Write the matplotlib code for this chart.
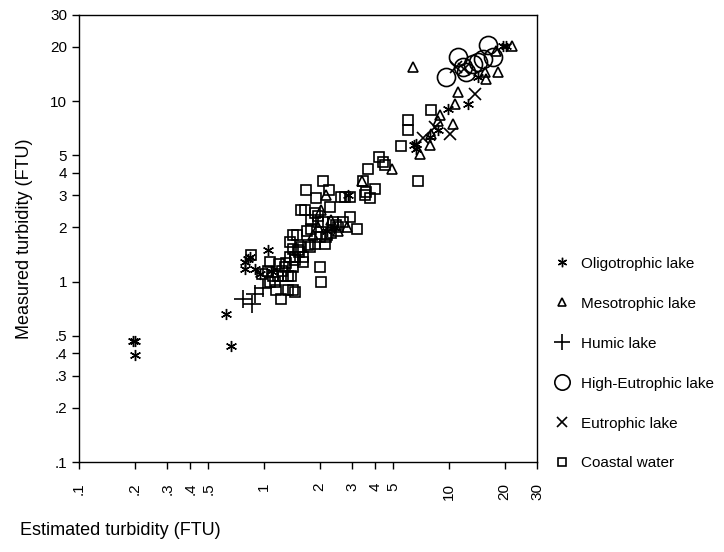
import matplotlib
matplotlib.use("Agg")
import matplotlib.pyplot as plt

plt.rcParams['font.family'] = ['Liberation Sans', 'DejaVu Sans']

# tick positions / labels (both axes use the same log scale)
ticks = [0.1, 0.2, 0.3, 0.4, 0.5, 1, 2, 3, 4, 5, 10, 20, 30]
tick_labels = ['.1', '.2', '.3', '.4', '.5', '1', '2', '3', '4', '5', '10', '20', '30']

# Oligotrophic lake (estimated, measured)
olig_x = [0.195, 0.2, 0.2, 0.62, 0.66, 0.79, 0.82, 0.79, 0.9, 0.95, 1.05, 1.09, 0.84,
          2.2, 2.4, 2.85, 6.5, 6.6, 6.6, 7.9, 8.7, 9.9, 12.7, 14.3, 19.6, 20.3]
olig_y = [0.47, 0.47, 0.39, 0.66, 0.44, 1.29, 1.34, 1.18, 1.18, 1.1, 1.5, 1.14, 1.36,
          1.9, 2.0, 3.0, 5.7, 5.4, 5.8, 6.3, 6.9, 9.0, 9.6, 13.5, 20.3, 20.3]

# Mesotrophic lake
meso_x = [1.84, 2.03, 2.16, 2.8, 3.4, 4.9, 7.0, 7.9, 8.0, 8.7, 9.0, 10.5, 10.8, 11.2,
          6.4, 15.6, 15.9, 17.9, 18.4, 22.0, 2.3, 2.5, 1.95]
meso_y = [1.8, 2.5, 3.0, 2.0, 3.6, 4.2, 5.1, 5.7, 6.6, 7.8, 8.4, 7.5, 9.6, 11.2,
          15.4, 14.5, 13.2, 19.0, 14.5, 20.3, 2.2, 1.9, 2.0]

# Humic lake
humic_x = [0.77, 0.86, 0.9, 0.99]
humic_y = [0.8, 0.75, 0.85, 0.92]

# High-Eutrophic lake
high_x = [9.6, 11.2, 11.9, 12.3, 13.5, 14.3, 15.2, 16.2, 17.3]
high_y = [13.6, 17.5, 15.4, 14.5, 16.0, 16.4, 17.0, 20.5, 17.5]

# Eutrophic lake
eut_x = [7.2, 8.4, 10.1, 10.9, 13.8, 12.0]
eut_y = [6.2, 7.2, 6.6, 15.4, 11.0, 15.0]

# Coastal water
coast_x = [0.85, 1.08, 1.12, 1.19, 1.27, 1.35, 1.08, 1.15, 1.24, 1.35, 1.43, 1.4, 1.47,
           1.43, 1.62, 1.53, 2.0, 2.03, 1.43, 1.58, 1.77, 1.16, 1.47, 1.32, 1.38, 1.47,
           1.62, 1.73, 1.38, 1.43, 1.89, 2.14, 2.0, 2.16, 1.79, 1.96, 2.08, 2.36, 2.51,
           2.67, 2.92, 3.2, 1.58, 1.66, 1.89, 2.27, 2.08, 1.69, 1.91, 2.25, 2.61, 2.74,
           2.92, 3.5, 3.98, 3.74, 3.65, 4.4, 4.2, 4.5, 3.43, 3.56, 5.5, 6.0, 6.0, 8.0,
           6.8, 1.25, 1.3, 1.55, 1.7, 2.3, 2.45, 1.95, 1.05, 0.98, 1.2, 1.5, 1.8, 2.2]
coast_y = [1.41, 1.29, 1.07, 1.07, 1.07, 1.07, 1.0, 1.0, 0.8, 0.9, 0.9, 1.07, 1.32,
           1.21, 1.29, 1.5, 1.21, 1.0, 1.52, 1.56, 1.56, 0.9, 0.88, 1.26, 1.37, 1.37,
           1.37, 1.6, 1.66, 1.82, 1.62, 1.62, 1.77, 1.77, 1.96, 2.14, 2.14, 2.14, 2.0,
           2.14, 2.29, 1.96, 2.5, 2.5, 2.4, 2.6, 3.6, 3.2, 2.9, 3.2, 2.95, 2.95,
           2.95, 3.0, 3.26, 2.9, 4.2, 4.6, 4.9, 4.4, 3.6, 3.14, 5.6, 7.9, 6.9, 8.9,
           3.6, 1.15, 1.2, 1.45, 1.9, 1.85, 2.05, 2.3, 1.15, 1.1, 1.25, 1.8, 2.2, 1.8]

fig = plt.figure(figsize=(7.24, 5.52), dpi=100)
ax = fig.add_axes([0.109, 0.163, 0.633, 0.810])

ax.plot(coast_x, coast_y, 's', mfc='none', mec='black', ms=7.5, mew=1.2,
        linestyle='none', label='Coastal water')
ax.plot(olig_x, olig_y, marker=(6, 2, 0), color='black', ms=8, mew=1.0,
        linestyle='none', label='Oligotrophic lake')
ax.plot(meso_x, meso_y, '^', mfc='none', mec='black', ms=7, mew=1.2,
        linestyle='none', label='Mesotrophic lake')
ax.plot(humic_x, humic_y, '+', color='black', ms=13, mew=1.2,
        linestyle='none', label='Humic lake')
ax.plot(high_x, high_y, 'o', mfc='none', mec='black', ms=13, mew=1.2,
        linestyle='none', label='High-Eutrophic lake')
ax.plot(eut_x, eut_y, 'x', color='black', ms=8, mew=1.2,
        linestyle='none', label='Eutrophic lake')

ax.set_xscale('log')
ax.set_yscale('log')
ax.set_xlim(0.1, 30)
ax.set_ylim(0.1, 30)
ax.set_xticks(ticks)
ax.set_xticklabels(tick_labels, rotation=90)
ax.set_yticks(ticks)
ax.set_yticklabels(tick_labels)
ax.minorticks_off()
ax.tick_params(direction='out', length=5, width=1, labelsize=11, colors='black')
ax.tick_params(axis='x', pad=10)
for s in ax.spines.values():
    s.set_linewidth(1)

ax.set_ylabel('Measured turbidity (FTU)', fontsize=13, labelpad=12)
fig.text(0.028, 0.03, 'Estimated turbidity (FTU)', fontsize=13)

handles, labels = ax.get_legend_handles_labels()
order = ['Oligotrophic lake', 'Mesotrophic lake', 'Humic lake',
         'High-Eutrophic lake', 'Eutrophic lake', 'Coastal water']
hmap = dict(zip(labels, handles))
fig.legend([hmap[k] for k in order], order, loc='upper left',
           bbox_to_anchor=(0.745, 0.56), frameon=False, fontsize=11,
           labelspacing=1.7, handletextpad=0.6, handlelength=1.2, markerscale=0.85)

fig.savefig('out.png', dpi=100)
